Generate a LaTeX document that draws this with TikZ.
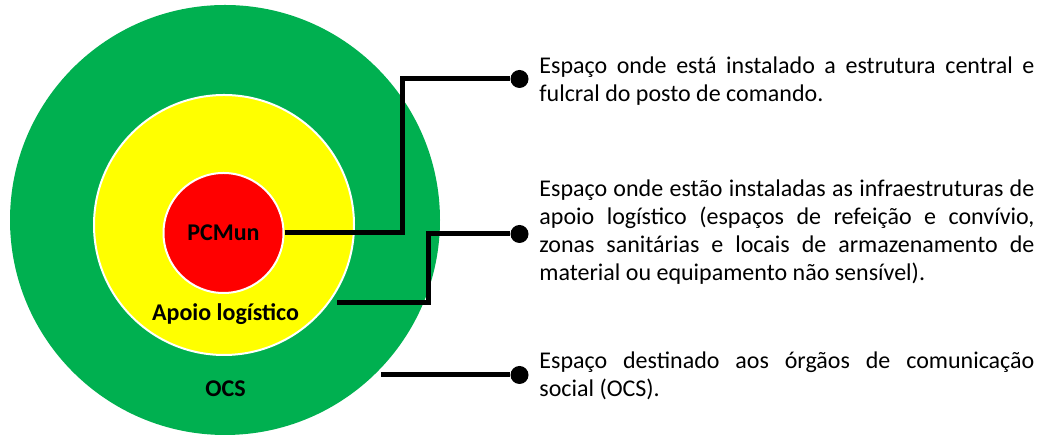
\documentclass[tikz,border=0pt]{standalone}
\usepackage{fontspec}
\setmainfont{Carlito}
\usetikzlibrary{positioning}
\definecolor{ocsgreen}{HTML}{00B050}
\definecolor{apoioyellow}{HTML}{FFFF00}

\begin{document}
\begin{tikzpicture}[x=1pt,y=1pt,
  zona/.style={circle,inner sep=0pt},
  ponto/.style={circle,fill=black,inner sep=0pt,minimum size=18pt},
  ligacao/.style={line width=5pt},
  rotulo/.style={font=\fontsize{24}{28}\selectfont\bfseries},
  legenda/.style={inner sep=0pt,text width=495pt,align=justify,font=\fontsize{24}{28}\selectfont}]
\useasboundingbox (0,0) rectangle (1045,435);
% zonas do posto de comando
\node[zona,fill=ocsgreen,minimum size=430pt] (zonaocs) at (225,215) {};
\node[zona,fill=apoioyellow,draw=white,line width=2pt,minimum size=260pt] (zonaapoio) at (224,210) {};
\node[zona,fill=red,draw=white,line width=2pt,minimum size=120pt,rotulo] (pcmun) at (223.5,202) {PCMun};
\node[rotulo,anchor=base] (apoio) at (225.5,114) {Apoio logístico};
\node[rotulo,anchor=base] (ocs) at (225.5,38) {OCS};
% ligacoes
\node[ponto] (p1) at (519.5,356) {};
\node[ponto] (p2) at (519.5,201) {};
\node[ponto] (p3) at (519.5,60) {};
\coordinate (k1) at (402,356);
\coordinate (s2) at (337,132);
\coordinate (k2) at (428,201);
\coordinate (s3) at (381,60);
\draw[ligacao] (pcmun.east) -| (k1) -- (p1);
\draw[ligacao] (s2) -| (k2) -- (p2);
\draw[ligacao] (s3) -- (p3);
% descricoes
\node[legenda,right=10.5pt of p1,yshift=-2.5pt] (t1) {Espaço onde está instalado a estrutura central e\linebreak fulcral do posto de comando.};
\node[legenda,right=10.5pt of p2,yshift=2pt] (t2) {Espaço onde estão instaladas as infraestruturas de\linebreak apoio logístico (espaços de refeição e convívio,\linebreak zonas sanitárias e locais de armazenamento de\linebreak material ou equipamento não sensível).};
\node[legenda,right=10.5pt of p3,yshift=-1pt] (t3) {Espaço destinado aos órgãos de comunicação\linebreak social (OCS).};
\end{tikzpicture}
\end{document}
